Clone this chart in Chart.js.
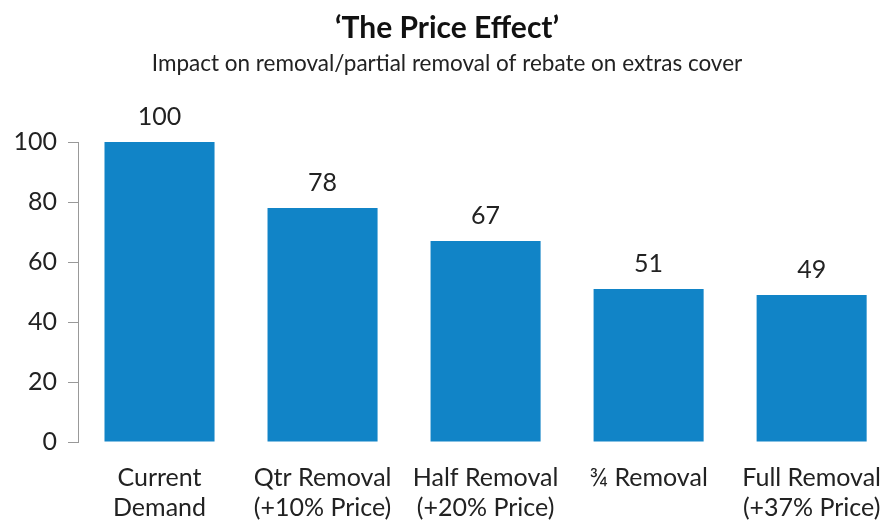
<!DOCTYPE html>
<html>
<head>
<meta charset="utf-8">
<script src="https://cdn.jsdelivr.net/npm/chart.js@4/dist/chart.umd.min.js"></script>
<style>
  html, body { margin: 0; padding: 0; background: #fff; overflow: hidden; }
  #wrap { width: 894px; height: 523px; }
</style>
</head>
<body>
<div id="wrap"><canvas id="priceChart"></canvas></div>
<script>
"use strict";

var categories = [
    ["Current", "Demand"],
    ["Qtr Removal", "(+10% Price)"],
    ["Half Removal", "(+20% Price)"],
    ["\u00be Removal"],
    ["Full Removal", "(+37% Price)"]
];
var demandValues = [100, 78, 67, 51, 49];
var yTicks = [0, 20, 40, 60, 80, 100];

var FONT = "Lato, 'Open Sans', sans-serif";

// draws the value above each bar
var valueLabels = {
    id: "valueLabels",
    afterDatasetsDraw: function (chart) {
        var ctx = chart.ctx;
        var meta = chart.getDatasetMeta(0);
        ctx.save();
        ctx.font = "25px " + FONT;
        ctx.fillStyle = "#222";
        ctx.textAlign = "center";
        ctx.textBaseline = "middle";
        meta.data.forEach(function (bar, i) {
            ctx.fillText(String(demandValues[i]), bar.x, bar.y - 25);
        });
        ctx.restore();
    }
};

var ctx = document.getElementById("priceChart");
var chart = new Chart(ctx, {
    type: "bar",
    data: {
        labels: categories,
        datasets: [{
            data: demandValues,
            backgroundColor: "#1184c7",
            borderWidth: 0,
            barPercentage: 0.675,
            categoryPercentage: 1
        }]
    },
    options: {
        responsive: true,
        maintainAspectRatio: false,
        animation: false,
        layout: { padding: 0 },
        plugins: {
            legend: { display: false },
            tooltip: { enabled: false },
            title: {
                display: true,
                text: "\u2018The Price Effect\u2019",
                color: "#111",
                font: { family: FONT, size: 30, weight: "bold" },
                padding: { top: 10, bottom: 2 }
            },
            subtitle: {
                display: true,
                text: "Impact on removal/partial removal of rebate on extras cover",
                color: "#222",
                font: { family: FONT, size: 22.5 },
                padding: { top: 2, bottom: 65 }
            }
        },
        scales: {
            x: {
                grid: { display: false },
                border: { display: false },
                ticks: {
                    color: "#222",
                    font: { family: FONT, size: 25 },
                    padding: 13,
                    maxRotation: 0,
                    autoSkip: false
                },
                afterFit: function (axis) {
                    axis.height = 81;
                }
            },
            y: {
                min: 0,
                max: 100,
                afterBuildTicks: function (axis) {
                    axis.ticks = yTicks.map(function (v) { return { value: v }; });
                },
                grid: {
                    drawOnChartArea: false,
                    drawTicks: true,
                    tickLength: 10,
                    color: "#999"
                },
                border: { display: true, color: "#999", width: 1 },
                ticks: {
                    color: "#222",
                    font: { family: FONT, size: 25 },
                    padding: 11
                },
                afterFit: function (axis) {
                    axis.width = 78;
                }
            }
        }
    },
    plugins: [valueLabels]
});
</script>
</body>
</html>
